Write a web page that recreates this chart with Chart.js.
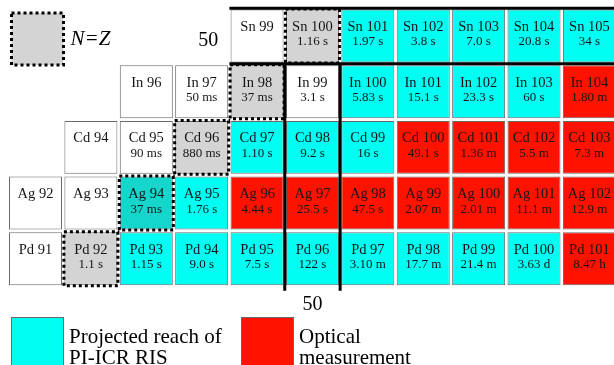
<!DOCTYPE html>
<html>
<head>
<meta charset="utf-8">
<script src="https://cdn.jsdelivr.net/npm/chart.js@4.4.0/dist/chart.umd.min.js"></script>
<style>
  html, body { margin: 0; padding: 0; background: #fff; }
  #wrap { width: 614px; height: 365px; }
</style>
</head>
<body>
<div id="wrap"><canvas id="grafico" width="614" height="365"></canvas></div>
<script>
// filas del mapa de nucleidos (Z) y primer N de cada fila
const elementos = ['Pd', 'Ag', 'Cd', 'In', 'Sn'];
const protones = [46, 47, 48, 49, 50];
const primerN = [45, 45, 46, 47, 49];

// vidas medias por fila (vacio = sin dato)
const vidaPd = ['', '1.1 s', '1.15 s', '9.0 s', '7.5 s', '122 s', '3.10 m', '17.7 m', '21.4 m', '3.63 d', '8.47 h'];
const vidaAg = ['', '', '37 ms', '1.76 s', '4.44 s', '25.5 s', '47.5 s', '2.07 m', '2.01 m', '11.1 m', '12.9 m'];
const vidaCd = ['', '90 ms', '880 ms', '1.10 s', '9.2 s', '16 s', '49.1 s', '1.36 m', '5.5 m', '7.3 m'];
const vidaIn = ['', '50 ms', '37 ms', '3.1 s', '5.83 s', '15.1 s', '23.3 s', '60 s', '1.80 m'];
const vidaSn = ['', '1.16 s', '1.97 s', '3.8 s', '7.0 s', '20.8 s', '34 s'];

// tipo de cada celda: b = blanco, nz = N=Z, pi = PI-ICR, mix = N=Z + PI-ICR, op = optico
const tipoPd = ['b', 'nz', 'pi', 'pi', 'pi', 'pi', 'pi', 'pi', 'pi', 'pi', 'op'];
const tipoAg = ['b', 'b', 'mix', 'pi', 'op', 'op', 'op', 'op', 'op', 'op', 'op'];
const tipoCd = ['b', 'b', 'nz', 'pi', 'pi', 'pi', 'op', 'op', 'op', 'op'];
const tipoIn = ['b', 'b', 'nz', 'b', 'pi', 'pi', 'pi', 'pi', 'op'];
const tipoSn = ['b', 'nz', 'pi', 'pi', 'pi', 'pi', 'pi'];

// numeros magicos
const magicoN = 50;
const magicoZ = 50;

const vidas = [vidaPd, vidaAg, vidaCd, vidaIn, vidaSn];
const tipos = [tipoPd, tipoAg, tipoCd, tipoIn, tipoSn];

const colores = {
    b: '#ffffff',
    nz: '#d4d4d4',
    pi: '#00fff2',
    mix: '#14d6cb',
    op: '#ff1200'
};

const FUENTE = '"Liberation Serif", "Times New Roman", serif';

const datasets = elementos.map((el, f) => {
    const Z = protones[f];
    return {
        label: el,
        data: vidas[f].map((v, i) => ({ x: primerN[f] + i, y: [Z - 0.475, Z + 0.475] })),
        backgroundColor: tipos[f].map(t => colores[t]),
        borderColor: '#6a6a6a',
        borderWidth: 1,
        borderSkipped: false,
        grouped: false,
        categoryPercentage: 1,
        barPercentage: 0.957
    };
});

// Dibuja textos, lineas magicas, recuadros N=Z y leyenda
const pluginMapa = {
    id: 'mapa',
    afterDatasetsDraw(chart) {
        const ctx = chart.ctx;
        const xs = chart.scales.x;
        const ys = chart.scales.y;
        const W = chart.width;

        ctx.save();
        ctx.fillStyle = '#151515';
        ctx.textAlign = 'center';
        ctx.textBaseline = 'alphabetic';

        const cajasNZ = [];
        chart.data.datasets.forEach((ds, f) => {
            const meta = chart.getDatasetMeta(f);
            const Z = protones[f];
            meta.data.forEach((bar, i) => {
                const N = primerN[f] + i;
                const cx = xs.getPixelForValue(N);
                const cy = ys.getPixelForValue(Z);
                ctx.font = '14.5px ' + FUENTE;
                ctx.fillText(elementos[f] + ' ' + (N + Z), cx, cy - 5);
                if (vidas[f][i]) {
                    ctx.font = '13px ' + FUENTE;
                    ctx.fillText(vidas[f][i], cx, cy + 9.5);
                }
                if (N === Z) {
                    const p = bar.getProps(['x', 'y', 'base', 'width'], true);
                    cajasNZ.push([p.x - p.width / 2, Math.min(p.y, p.base), p.width, Math.abs(p.base - p.y)]);
                }
            });
        });

        // lineas de capa cerrada
        ctx.strokeStyle = '#000';
        ctx.lineWidth = 3;
        ctx.beginPath();
        ctx.moveTo(xs.getPixelForValue(magicoN - 1.5), ys.getPixelForValue(magicoZ + 0.5));
        ctx.lineTo(W, ys.getPixelForValue(magicoZ + 0.5));
        ctx.moveTo(xs.getPixelForValue(magicoN - 1.5), ys.getPixelForValue(magicoZ - 0.5));
        ctx.lineTo(W, ys.getPixelForValue(magicoZ - 0.5));
        [magicoN - 0.5, magicoN + 0.5].forEach(n => {
            ctx.moveTo(xs.getPixelForValue(n), ys.getPixelForValue(magicoZ - 0.5));
            ctx.lineTo(xs.getPixelForValue(n), ys.getPixelForValue(protones[0] - 0.5) + 4);
        });
        ctx.stroke();

        // recuadros punteados N=Z
        ctx.setLineDash([3, 3]);
        ctx.lineWidth = 3;
        cajasNZ.forEach(c => ctx.strokeRect(c[0] - 0.5, c[1] - 0.5, c[2] + 1, c[3] + 1));

        // leyenda N=Z (arriba izquierda)
        const lx = xs.getPixelForValue(45) - 24;
        const ly = ys.getPixelForValue(50) - 23;
        ctx.fillStyle = colores.nz;
        ctx.fillRect(lx, ly, 52, 52);
        ctx.strokeRect(lx, ly, 52, 52);
        ctx.setLineDash([]);

        ctx.fillStyle = '#000';
        ctx.textAlign = 'left';
        ctx.font = 'italic 21px ' + FUENTE;
        ctx.fillText('N=Z', lx + 59, ys.getPixelForValue(50) + 9);

        ctx.font = '20px ' + FUENTE;
        ctx.textAlign = 'right';
        ctx.fillText(String(magicoZ), xs.getPixelForValue(magicoN - 1.5) - 11, ys.getPixelForValue(magicoZ) + 10);
        ctx.textAlign = 'center';
        ctx.fillText(String(magicoN), xs.getPixelForValue(magicoN), ys.getPixelForValue(protones[0] - 0.5) + 23);

        // leyenda inferior
        const items = [
            { color: colores.pi, x: 11, lineas: ['Projected reach of', 'PI-ICR RIS'] },
            { color: colores.op, x: 241, lineas: ['Optical', 'measurement'] }
        ];
        ctx.textAlign = 'left';
        ctx.font = '21px ' + FUENTE;
        items.forEach(it => {
            ctx.fillStyle = it.color;
            ctx.fillRect(it.x, 317, 52, 60);
            ctx.strokeStyle = '#6a6a6a';
            ctx.lineWidth = 1;
            ctx.strokeRect(it.x + 0.5, 317.5, 52, 60);
            ctx.fillStyle = '#000';
            ctx.fillText(it.lineas[0], it.x + 58, 343);
            ctx.fillText(it.lineas[1], it.x + 58, 364);
        });
        ctx.restore();
    }
};

new Chart(document.getElementById('grafico'), {
    type: 'bar',
    data: { datasets: datasets },
    options: {
        responsive: false,
        devicePixelRatio: 1,
        animation: false,
        layout: { padding: 0 },
        plugins: {
            legend: { display: false },
            tooltip: { enabled: false }
        },
        scales: {
            x: { type: 'linear', min: 44.359, max: 55.444, display: false, offset: false },
            y: { type: 'linear', min: 44.093, max: 50.646, display: false }
        }
    },
    plugins: [pluginMapa]
});
</script>
</body>
</html>
